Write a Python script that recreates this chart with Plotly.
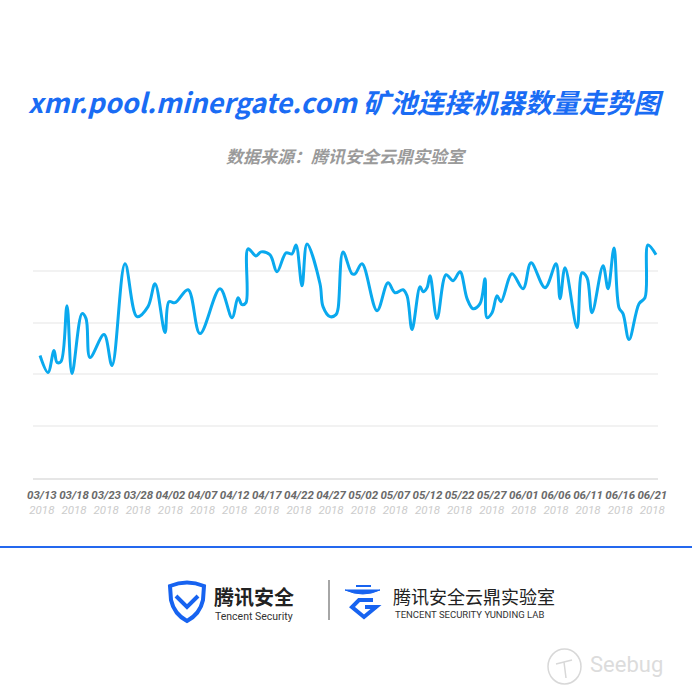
import plotly.graph_objects as go

# ---------------- data ----------------
# day offset from 03/13/2018, relative machine count (axis has no numeric labels)
days = [0, 1.30, 2.27, 2.76, 3.41, 4.38, 5.19, 6.82, 7.47, 8.12, 10.39, 11.69, 13.80, 15.75,
        17.53, 18.67, 20.29, 20.94, 21.92, 24.03, 25.97, 29.22, 31.17, 32.14, 32.79, 33.44,
        33.77, 35.06, 35.88, 37.34, 38.47, 39.94, 40.91, 41.56, 42.53, 43.34, 45.45, 45.94,
        47.08, 48.05, 48.38, 49.19, 50.65, 51.14, 52.27, 54.71, 56.49, 57.63, 58.93, 59.58,
        60.39, 61.69, 62.18, 62.82, 63.31, 64.45, 65.91, 67.05, 68.18, 69.32, 70.29, 71.43,
        72.24, 72.56, 73.38, 74.19, 74.84, 76.62, 78.41, 79.71, 81.98, 83.77, 84.42, 85.23,
        87.18, 87.99, 88.80, 89.61, 91.40, 92.21, 93.18, 93.99, 94.64, 95.62, 97.24, 98.21,
        98.70, 100]
machines = [2365, 2038, 2462, 2231, 2250, 3327, 2019, 3173, 3077, 2327, 2769, 2173, 4135, 3115,
            3308, 3750, 2808, 3404, 3385, 3635, 2788, 3654, 3096, 3481, 3346, 3385,
            4423, 4288, 4365, 4308, 3981, 4346, 4327, 4500, 3712, 4519, 3750, 3308,
            3115, 3154, 3269, 4365, 3942, 3942, 4135, 3231, 3769, 3577, 3635, 3519,
            2865, 3692, 3596, 3673, 3904, 3077, 3923, 3808, 3981, 3462, 3269, 3365,
            3846, 3096, 3192, 3519, 3404, 3942, 3654, 4154, 3673, 4135, 3462, 4058,
            2904, 3962, 3865, 3192, 4096, 3654, 4442, 3288, 3173, 2673, 3365, 3481,
            4500, 4308]

tick_dates = ["03/13", "03/18", "03/23", "03/28", "04/02", "04/07", "04/12", "04/17", "04/22",
              "04/27", "05/02", "05/07", "05/12", "05/22", "05/27", "06/01", "06/06", "06/11",
              "06/16", "06/21"]
tick_year = "2018"
tick_first, tick_last = 0.3, 99.4
tick_pos = [tick_first + i * (tick_last - tick_first) / (len(tick_dates) - 1)
            for i in range(len(tick_dates))]

title_text = "xmr.pool.minergate.com 矿池连接机器数量走势图"
subtitle_text = "数据来源：腾讯安全云鼎实验室"

# ---------------- layout helpers ----------------
W = H = 692
L, R, T, B = 33, 34, 219, 214
PW, PH = W - L - R, H - T - B


def px(x):
    return (x - L) / PW


def py(y):
    return (H - B - y) / PH


def path(cmds):
    out = []
    for c in cmds:
        if isinstance(c, str):
            out.append(c)
        else:
            out.append(f"{px(c[0]):.5f},{py(c[1]):.5f}")
    return " ".join(out)


CJK = "Noto Sans CJK SC"

fig = go.Figure()
fig.add_trace(go.Scatter(
    x=days, y=machines, mode="lines",
    line=dict(color="#0AA9EE", width=3, shape="spline", smoothing=1.0),
    hoverinfo="skip", showlegend=False,
))

ticktext = [f"<b>{d}</b><br><span style='color:#cccccc'>{tick_year}</span>" for d in tick_dates]

fig.update_layout(
    width=W, height=H,
    margin=dict(l=L, r=R, t=T, b=B),
    paper_bgcolor="white", plot_bgcolor="white",
    xaxis=dict(range=[-1.14, 100.32], showgrid=False, zeroline=False,
               showline=True, linecolor="#e6e6e6", linewidth=2,
               tickmode="array", tickvals=tick_pos, ticktext=ticktext, tickangle=0,
               ticks="", tickfont=dict(family="Roboto", size=11.5, color="#6a6a6a", style="italic"),
               ticklabelstandoff=5, fixedrange=True),
    yaxis=dict(range=[0, 5000], dtick=1000, showgrid=True, gridcolor="#f2f2f2", gridwidth=1.5,
               zeroline=False, showticklabels=False, fixedrange=True),
)


def ann(x, y, text, font, xanchor="center"):
    return dict(x=px(x), y=py(y), xref="paper", yref="paper", text=text, showarrow=False,
                xanchor=xanchor, yanchor="middle", font=font)


annotations = [
    ann(346, 101, f"<b>{title_text}</b>",
        dict(family=CJK, size=27, color="#1a6cf4", style="italic")),
    ann(346, 155, f"<b>{subtitle_text}</b>",
        dict(family=CJK, size=17, color="#9a9a9a", style="italic")),
    ann(212, 596, "<b>腾讯安全</b>", dict(family=CJK, size=20, color="#222222"), "left"),
    ann(213, 616, "Tencent Security", dict(family="Roboto", size=10.5, color="#333333"), "left"),
    ann(391, 596, "腾讯安全云鼎实验室", dict(family=CJK, size=18, color="#222222"), "left"),
    ann(393, 614, "TENCENT SECURITY YUNDING LAB", dict(family="Roboto", size=9.5, color="#333333"), "left"),
    ann(588, 664, "Seebug", dict(family="Roboto", size=22, color="#dcdcdc"), "left"),
]
fig.update_layout(annotations=annotations)

blue = "#1763f0"
shapes = [
    # blue separator
    dict(type="line", xref="paper", yref="paper", x0=px(0), x1=px(W), y0=py(547), y1=py(547),
         line=dict(color="#2468ee", width=2)),
    # shield
    dict(type="path", xref="paper", yref="paper",
         path=path(["M", (170, 586), "Q", (187, 579), (204, 586), "L", (203, 600),
                    "Q", (200, 614), (187, 621), "Q", (174, 614), (171, 600), "Z"]),
         line=dict(color=blue, width=4)),
    dict(type="path", xref="paper", yref="paper",
         path=path(["M", (176, 596), "L", (187, 607), "L", (198, 596)]),
         line=dict(color=blue, width=4)),
    # divider
    dict(type="line", xref="paper", yref="paper", x0=px(329), x1=px(329), y0=py(580), y1=py(620),
         line=dict(color="#888888", width=1.5)),
    # cloud logo
    dict(type="path", xref="paper", yref="paper",
         path=path(["M", (356, 586), "L", (371, 586)]),
         line=dict(color=blue, width=2)),
    dict(type="path", xref="paper", yref="paper",
         path=path(["M", (345, 590), "L", (380, 590), "Q", (363, 598), (345, 590), "Z"]),
         fillcolor=blue, line=dict(color=blue, width=1)),
    dict(type="path", xref="paper", yref="paper",
         path=path(["M", (373, 600), "L", (359, 600), "L", (352, 607), "L", (364, 617),
                    "L", (376, 607), "L", (365, 607)]),
         line=dict(color=blue, width=4)),
    # seebug icon
    dict(type="circle", xref="paper", yref="paper", x0=px(548), x1=px(581), y0=py(684), y1=py(649),
         line=dict(color="#d8d8d8", width=1.5)),
    dict(type="path", xref="paper", yref="paper",
         path=path(["M", (556, 664), "L", (572, 660), "M", (564, 662), "L", (566, 678)]),
         line=dict(color="#d8d8d8", width=1.5)),
]
fig.update_layout(shapes=shapes)

fig.write_html("out.html", post_script="document.body.style.margin='0';",
               config={"displayModeBar": False})
